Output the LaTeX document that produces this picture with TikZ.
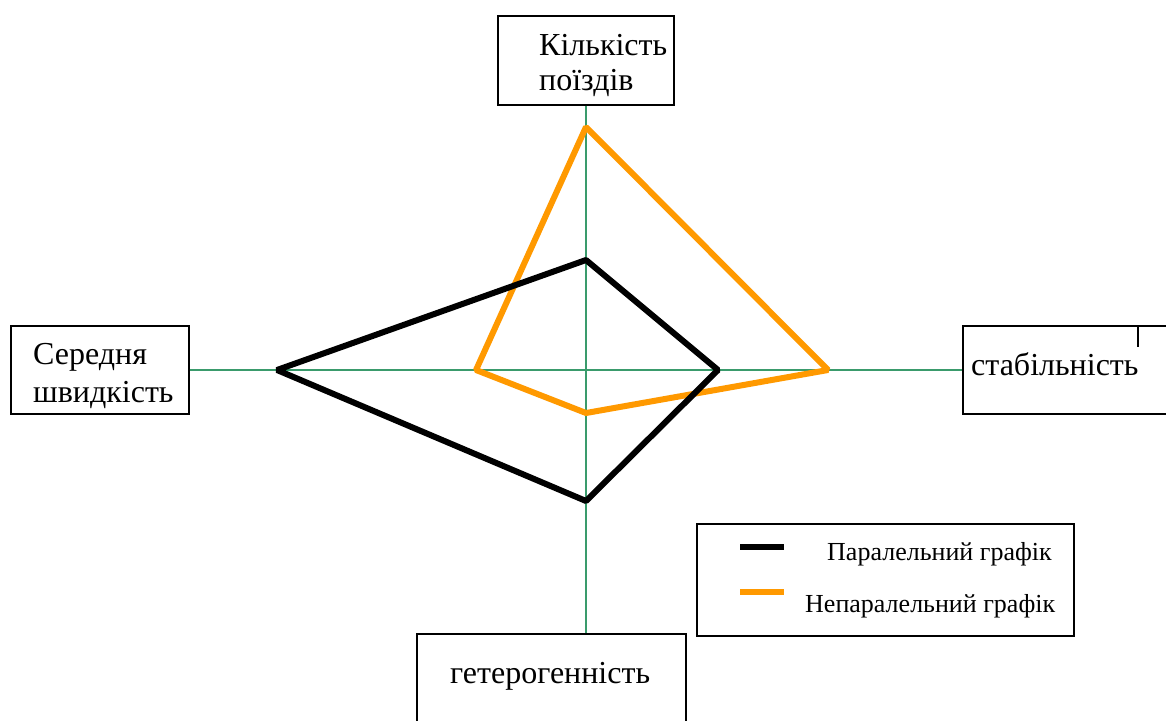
\documentclass[tikz,border=0pt]{standalone}
\usepackage{fontspec}
\setmainfont{Liberation Serif}
\definecolor{axisgreen}{RGB}{58,155,108}
\definecolor{graforange}{RGB}{255,153,0}

\begin{document}
\begin{tikzpicture}[x = 1pt, y = -1pt,
    box/.style = {draw, line width = 1.6pt, inner sep = 0pt, anchor = north west},
    lbl/.style = {font = \fontsize{32}{38}\selectfont, inner sep = 0pt, anchor = base west},
    leg/.style = {font = \fontsize{26}{30}\selectfont, inner sep = 0pt, anchor = base west},
    axis/.style = {draw = axisgreen, line width = 1.8pt},
    par/.style = {line width = 6pt, line join = bevel},
    nonpar/.style = {line width = 6pt, line join = bevel, draw = graforange}]
    \useasboundingbox (0,0) rectangle (1166,720);
    % boxes of the four axes
    \node[box, minimum width = 176pt, minimum height = 89pt] (top) at (497,15) {};
    \node[box, minimum width = 178pt, minimum height = 88pt] (left) at (10,325) {};
    \node[box, minimum width = 240pt, minimum height = 88pt] (right) at (962,325) {};
    \node[box, minimum width = 269pt, minimum height = 120pt] (bottom) at (416,633) {};
    \draw[line width = 1.6pt] (right.north west) ++(176,0) -- ++(0,22);
    \node[lbl] (kilk) at (539,55) {Кількість};
    \node[lbl] (poizd) at (539,90) {поїздів};
    \node[lbl] (sered) at (33,364) {Середня};
    \node[lbl] (shvyd) at (33,402) {швидкість};
    \node[lbl] (stab) at (971,375) {стабільність};
    \node[lbl] (heter) at (450,683) {гетерогенність};
    % axes
    \coordinate (O) at (586,370);
    \draw[axis] (O |- top.south) -- (O |- bottom.north);
    \draw[axis] (left.east) -- (right.west);
    % values
    \coordinate (P1) at (586,260);
    \coordinate (P2) at (718,370);
    \coordinate (P3) at (586,501);
    \coordinate (P4) at (277,370);
    \coordinate (N1) at (586,127);
    \coordinate (N2) at (828,370);
    \coordinate (N3) at (586,413);
    \coordinate (N4) at (476,370);
    \draw[nonpar] (N1) -- (N2) -- (N3) -- (N4) -- cycle;
    \draw[par] (P1) -- (P2) -- (P3) -- (P4) -- cycle;
    % legend
    \node[box, minimum width = 377pt, minimum height = 112pt] (legend) at (696,523) {};
    \coordinate (L1) at (740,547);
    \coordinate (L2) at (784,547);
    \coordinate (L3) at (740,592);
    \coordinate (L4) at (784,592);
    \draw[par] (L1) -- (L2);
    \draw[nonpar] (L3) -- (L4);
    \node[leg] (parleg) at (827,560) {Паралельний графік};
    \node[leg] (nonparleg) at (805,612) {Непаралельний графік};
\end{tikzpicture}
\end{document}
